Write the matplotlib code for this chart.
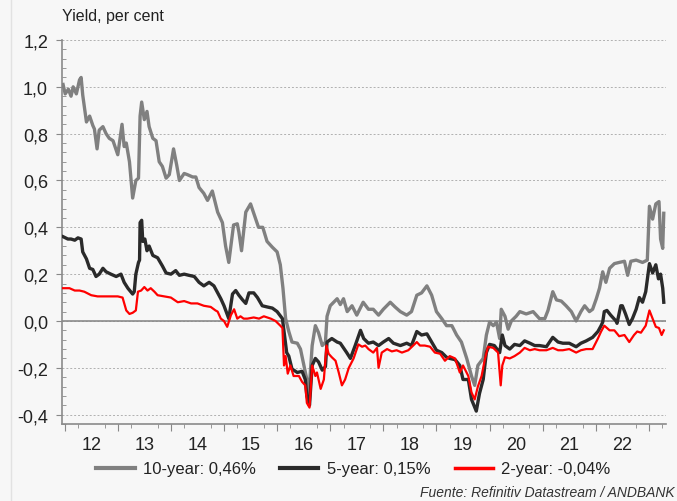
import numpy as np
import matplotlib.pyplot as plt
from matplotlib.ticker import FixedLocator, MultipleLocator, FuncFormatter
from matplotlib.lines import Line2D

plt.rcParams['font.family'] = ['Liberation Sans', 'DejaVu Sans']

# 10-year yield (decimal year, per cent)
t10 = [2011.97, 2012.01, 2012.07, 2012.12, 2012.16, 2012.22, 2012.28, 2012.31, 2012.34, 2012.41,
       2012.47, 2012.53, 2012.56, 2012.61, 2012.65, 2012.72, 2012.78, 2012.84, 2012.91, 2013.00,
       2013.08, 2013.12, 2013.16, 2013.22, 2013.28, 2013.34, 2013.39, 2013.42, 2013.45, 2013.50,
       2013.55, 2013.59, 2013.66, 2013.72, 2013.78, 2013.84, 2013.91, 2013.97, 2014.05, 2014.11,
       2014.16, 2014.25, 2014.31, 2014.41, 2014.47, 2014.53, 2014.62, 2014.69, 2014.78, 2014.88,
       2014.97, 2015.03, 2015.09, 2015.18, 2015.25, 2015.28, 2015.33, 2015.41, 2015.50, 2015.56,
       2015.65, 2015.73, 2015.81, 2015.91, 2016.00, 2016.06, 2016.11, 2016.16, 2016.22, 2016.28,
       2016.38, 2016.44, 2016.50, 2016.56, 2016.59, 2016.66, 2016.72, 2016.78, 2016.85, 2016.91,
       2016.94, 2017.00, 2017.13, 2017.19, 2017.25, 2017.32, 2017.41, 2017.50, 2017.62, 2017.72,
       2017.81, 2017.91, 2018.00, 2018.13, 2018.22, 2018.32, 2018.44, 2018.53, 2018.63, 2018.72,
       2018.82, 2018.91, 2019.00, 2019.10, 2019.19, 2019.29, 2019.38, 2019.47, 2019.57, 2019.66,
       2019.72, 2019.78, 2019.88, 2019.94, 2020.00, 2020.07, 2020.13, 2020.19, 2020.22, 2020.29,
       2020.35, 2020.41, 2020.50, 2020.57, 2020.69, 2020.82, 2020.94, 2021.04, 2021.10, 2021.19,
       2021.26, 2021.35, 2021.44, 2021.54, 2021.63, 2021.72, 2021.79, 2021.88, 2021.94, 2022.01,
       2022.07, 2022.13, 2022.19, 2022.26, 2022.35, 2022.44, 2022.54, 2022.60, 2022.66, 2022.76,
       2022.88, 2022.97, 2023.01, 2023.07, 2023.13, 2023.19, 2023.22, 2023.26, 2023.28]
y10 = [1.01, 0.97, 0.99, 0.96, 1.00, 0.97, 1.03, 1.04, 0.965, 0.85,
       0.875, 0.835, 0.82, 0.735, 0.815, 0.83, 0.80, 0.78, 0.77, 0.71,
       0.84, 0.745, 0.76, 0.68, 0.525, 0.60, 0.61, 0.875, 0.935, 0.86,
       0.895, 0.83, 0.78, 0.77, 0.68, 0.66, 0.61, 0.625, 0.735, 0.665,
       0.60, 0.63, 0.625, 0.615, 0.615, 0.57, 0.545, 0.515, 0.555, 0.465,
       0.42, 0.32, 0.25, 0.41, 0.415, 0.38, 0.30, 0.465, 0.50, 0.46,
       0.40, 0.40, 0.34, 0.315, 0.295, 0.24, 0.14, 0.01, -0.045, -0.09,
       -0.095, -0.12, -0.185, -0.25, -0.34, -0.105, -0.02, -0.05, -0.105, -0.09,
       0.02, 0.065, 0.095, 0.07, 0.095, 0.04, 0.065, 0.025, 0.08, 0.05,
       0.05, 0.025, 0.05, 0.08, 0.06, 0.04, 0.025, 0.04, 0.11, 0.12,
       0.15, 0.11, 0.04, 0.01, -0.02, -0.02, -0.06, -0.09, -0.16, -0.235,
       -0.275, -0.19, -0.16, -0.06, -0.005, -0.02, -0.005, -0.075, 0.05, 0.02,
       -0.035, 0.0, 0.02, 0.04, 0.03, 0.04, 0.01, 0.01, 0.045, 0.125,
       0.09, 0.085, 0.065, 0.04, 0.0, 0.04, 0.065, 0.04, 0.05, 0.095,
       0.14, 0.21, 0.165, 0.225, 0.245, 0.25, 0.255, 0.195, 0.255, 0.26,
       0.25, 0.26, 0.49, 0.435, 0.50, 0.51, 0.35, 0.31, 0.46]

# 5-year yield
t5 = [2011.97, 2012.06, 2012.12, 2012.19, 2012.25, 2012.31, 2012.34, 2012.41, 2012.47, 2012.53,
      2012.59, 2012.65, 2012.72, 2012.78, 2012.87, 2012.97, 2013.06, 2013.12, 2013.19, 2013.28,
      2013.31, 2013.34, 2013.39, 2013.41, 2013.42, 2013.45, 2013.47, 2013.51, 2013.55, 2013.59,
      2013.66, 2013.75, 2013.84, 2013.91, 2014.00, 2014.09, 2014.16, 2014.25, 2014.34, 2014.44,
      2014.53, 2014.62, 2014.72, 2014.81, 2014.88, 2014.94, 2015.00, 2015.09, 2015.16, 2015.22,
      2015.28, 2015.35, 2015.41, 2015.47, 2015.56, 2015.63, 2015.72, 2015.81, 2015.91, 2016.00,
      2016.10, 2016.13, 2016.18, 2016.22, 2016.28, 2016.38, 2016.47, 2016.53, 2016.56, 2016.61,
      2016.66, 2016.72, 2016.78, 2016.85, 2016.91, 2016.94, 2017.03, 2017.13, 2017.19, 2017.31,
      2017.38, 2017.47, 2017.57, 2017.63, 2017.72, 2017.81, 2017.91, 2018.00, 2018.10, 2018.19,
      2018.32, 2018.44, 2018.53, 2018.63, 2018.72, 2018.82, 2018.91, 2019.00, 2019.10, 2019.19,
      2019.25, 2019.35, 2019.44, 2019.50, 2019.60, 2019.66, 2019.75, 2019.81, 2019.88, 2019.94,
      2020.00, 2020.09, 2020.19, 2020.24, 2020.29, 2020.38, 2020.47, 2020.57, 2020.66, 2020.76,
      2020.85, 2020.94, 2021.07, 2021.19, 2021.29, 2021.38, 2021.50, 2021.63, 2021.72, 2021.82,
      2021.94, 2022.04, 2022.10, 2022.13, 2022.16, 2022.21, 2022.28, 2022.38, 2022.40, 2022.47,
      2022.50, 2022.56, 2022.63, 2022.69, 2022.76, 2022.82, 2022.88, 2022.94, 2023.01, 2023.07,
      2023.13, 2023.18, 2023.22, 2023.26, 2023.28]
y5 = [0.36, 0.35, 0.35, 0.345, 0.355, 0.35, 0.295, 0.265, 0.225, 0.22,
      0.19, 0.20, 0.225, 0.21, 0.20, 0.19, 0.20, 0.165, 0.14, 0.115,
      0.125, 0.20, 0.25, 0.26, 0.42, 0.43, 0.34, 0.35, 0.30, 0.32,
      0.28, 0.27, 0.235, 0.205, 0.20, 0.215, 0.195, 0.20, 0.195, 0.19,
      0.165, 0.15, 0.165, 0.15, 0.12, 0.095, 0.065, 0.01, 0.115, 0.13,
      0.11, 0.09, 0.075, 0.12, 0.12, 0.10, 0.065, 0.06, 0.055, 0.04,
      0.01, -0.045, -0.135, -0.15, -0.205, -0.22, -0.215, -0.25, -0.32, -0.36,
      -0.19, -0.16, -0.175, -0.21, -0.195, -0.09, -0.075, -0.09, -0.095, -0.135,
      -0.16, -0.105, -0.04, -0.075, -0.095, -0.09, -0.105, -0.09, -0.075, -0.095,
      -0.105, -0.095, -0.105, -0.045, -0.06, -0.055, -0.09, -0.125, -0.135, -0.155,
      -0.16, -0.165, -0.19, -0.25, -0.25, -0.335, -0.385, -0.31, -0.25, -0.135,
      -0.10, -0.105, -0.135, -0.06, -0.105, -0.12, -0.10, -0.105, -0.085, -0.095,
      -0.105, -0.105, -0.11, -0.07, -0.09, -0.095, -0.095, -0.11, -0.095, -0.085,
      -0.07, -0.045, -0.02, -0.005, 0.04, 0.045, 0.025, 0.0, -0.01, 0.065,
      0.065, 0.03, -0.015, 0.01, 0.05, 0.10, 0.08, 0.125, 0.245, 0.205,
      0.24, 0.18, 0.20, 0.14, 0.08]

# 2-year yield
t2 = [2011.97, 2012.09, 2012.19, 2012.28, 2012.37, 2012.50, 2012.62, 2012.75, 2012.87, 2013.00,
      2013.09, 2013.16, 2013.22, 2013.28, 2013.34, 2013.38, 2013.44, 2013.50, 2013.56, 2013.62,
      2013.69, 2013.75, 2013.87, 2014.00, 2014.13, 2014.25, 2014.38, 2014.50, 2014.62, 2014.75,
      2014.84, 2014.88, 2014.94, 2015.00, 2015.06, 2015.13, 2015.19, 2015.25, 2015.31, 2015.37,
      2015.44, 2015.56, 2015.66, 2015.75, 2015.88, 2015.97, 2016.06, 2016.10, 2016.13, 2016.16,
      2016.20, 2016.25, 2016.31, 2016.41, 2016.47, 2016.53, 2016.56, 2016.61, 2016.66, 2016.72,
      2016.75, 2016.82, 2016.88, 2016.93, 2016.97, 2017.03, 2017.10, 2017.16, 2017.22, 2017.28,
      2017.35, 2017.44, 2017.53, 2017.60, 2017.66, 2017.72, 2017.81, 2017.88, 2017.91, 2017.97,
      2018.07, 2018.16, 2018.25, 2018.35, 2018.47, 2018.56, 2018.63, 2018.69, 2018.78, 2018.88,
      2018.97, 2019.07, 2019.16, 2019.25, 2019.35, 2019.44, 2019.50, 2019.60, 2019.66, 2019.72,
      2019.78, 2019.85, 2019.91, 2019.97, 2020.07, 2020.16, 2020.21, 2020.24, 2020.29, 2020.38,
      2020.47, 2020.57, 2020.66, 2020.76, 2020.85, 2020.94, 2021.07, 2021.19, 2021.29, 2021.38,
      2021.50, 2021.63, 2021.72, 2021.82, 2021.94, 2022.04, 2022.10, 2022.16, 2022.26, 2022.35,
      2022.44, 2022.54, 2022.63, 2022.72, 2022.78, 2022.85, 2022.94, 2023.01, 2023.07, 2023.13,
      2023.19, 2023.24, 2023.28]
y2 = [0.14, 0.14, 0.13, 0.13, 0.125, 0.11, 0.105, 0.105, 0.105, 0.105,
      0.10, 0.045, 0.03, 0.035, 0.045, 0.125, 0.13, 0.145, 0.13, 0.14,
      0.125, 0.11, 0.105, 0.10, 0.08, 0.085, 0.075, 0.075, 0.065, 0.06,
      0.045, 0.04, 0.01, 0.0, -0.025, 0.025, 0.05, 0.01, 0.02, 0.01,
      0.01, 0.015, 0.01, 0.02, 0.01, 0.0, -0.02, -0.03, -0.19, -0.15,
      -0.225, -0.19, -0.235, -0.235, -0.26, -0.275, -0.35, -0.37, -0.19, -0.235,
      -0.22, -0.29, -0.25, -0.105, -0.14, -0.155, -0.17, -0.22, -0.275, -0.25,
      -0.20, -0.16, -0.10, -0.11, -0.105, -0.12, -0.135, -0.115, -0.20, -0.135,
      -0.12, -0.13, -0.125, -0.135, -0.125, -0.105, -0.09, -0.105, -0.105, -0.11,
      -0.135, -0.14, -0.17, -0.15, -0.16, -0.22, -0.19, -0.235, -0.305, -0.335,
      -0.28, -0.235, -0.165, -0.11, -0.115, -0.135, -0.275, -0.19, -0.155, -0.16,
      -0.15, -0.135, -0.115, -0.125, -0.12, -0.125, -0.125, -0.115, -0.125, -0.125,
      -0.12, -0.135, -0.125, -0.12, -0.12, -0.075, -0.045, -0.02, -0.04, -0.04,
      -0.065, -0.06, -0.09, -0.06, -0.045, -0.05, -0.02, 0.045, 0.01, -0.025,
      -0.03, -0.06, -0.04]

labels = ["10-year: 0,46%", "5-year: 0,15%", "2-year: -0,04%"]
year_labels = ["12", "13", "14", "15", "16", "17", "18", "19", "20", "21", "22"]

bg = "#f7f7f7"
fig = plt.figure(figsize=(6.77, 5.02), dpi=100, facecolor=bg)
ax = fig.add_axes([0.0916, 0.1534, 0.892, 0.7649], facecolor=bg)

ax.plot(t10, y10, color="#808080", lw=2.4, label=labels[0], zorder=3)
ax.plot(t5, y5, color="#2a2a2a", lw=2.4, label=labels[1], zorder=4)
ax.plot(t2, y2, color="#ff0000", lw=1.6, label=labels[2], zorder=5)

ax.set_xlim(2011.95, 2023.32)
ax.set_ylim(-0.44, 1.2)

# y axis
ax.yaxis.set_major_locator(MultipleLocator(0.2))
ax.yaxis.set_minor_locator(MultipleLocator(0.04))
ax.yaxis.set_major_formatter(FuncFormatter(lambda v, p: f"{v:.1f}".replace(".", ",").replace("-0,0", "0,0")))
ax.tick_params(axis="y", which="major", direction="out", length=4, color="#888888",
               labelsize=13, labelcolor="#222222", pad=6)
ax.tick_params(axis="y", which="minor", direction="in", length=3, color="#888888")
ax.grid(axis="y", which="major", linestyle=(0, (2, 2)), color="#b0b0b0", lw=0.7)
ax.axhline(0, color="#8a8a8a", lw=1.2, zorder=2)

# x axis: year labels at mid-year, quarterly minor ticks
years = np.arange(2012, 2023)
ax.set_xticks(years + 0.5)
ax.set_xticklabels(year_labels)
ax.xaxis.set_minor_locator(FixedLocator(np.arange(2012, 2023.3, 0.25)))
ax.tick_params(axis="x", which="major", length=0, labelsize=13, labelcolor="#222222", pad=9)
ax.tick_params(axis="x", which="minor", direction="out", length=3, color="#888888")
sec = ax.secondary_xaxis("bottom")
sec.set_xticks(np.arange(2012, 2024))
sec.tick_params(length=5, color="#888888", labelbottom=False)
sec.spines["bottom"].set_visible(False)

for s in ["top", "right"]:
    ax.spines[s].set_visible(False)
for s in ["left", "bottom"]:
    ax.spines[s].set_color("#8a8a8a")
    ax.spines[s].set_linewidth(1.2)

fig.text(62 / 677, 1 - 17 / 502, "Yield, per cent", fontsize=11.5, color="#222222", va="center")

handles = [Line2D([], [], color="#808080", lw=3),
           Line2D([], [], color="#2a2a2a", lw=3),
           Line2D([], [], color="#ff0000", lw=2.5)]
fig.legend(handles, labels, loc="center", bbox_to_anchor=(0.522, 1 - 470 / 502), ncol=3,
           frameon=False, fontsize=12, handlelength=2.3, handletextpad=0.5, columnspacing=1.45,
           labelcolor="#222222")

fig.text(0.997, 1 - 493 / 502, "Fuente: Refinitiv Datastream / ANDBANK", fontsize=10,
         style="italic", color="#333333", ha="right", va="center")

fig.add_artist(Line2D([11 / 677, 11 / 677], [0, 1], color="#e2e2e2", lw=1))

fig.savefig("out.png", dpi=100, facecolor=bg)
